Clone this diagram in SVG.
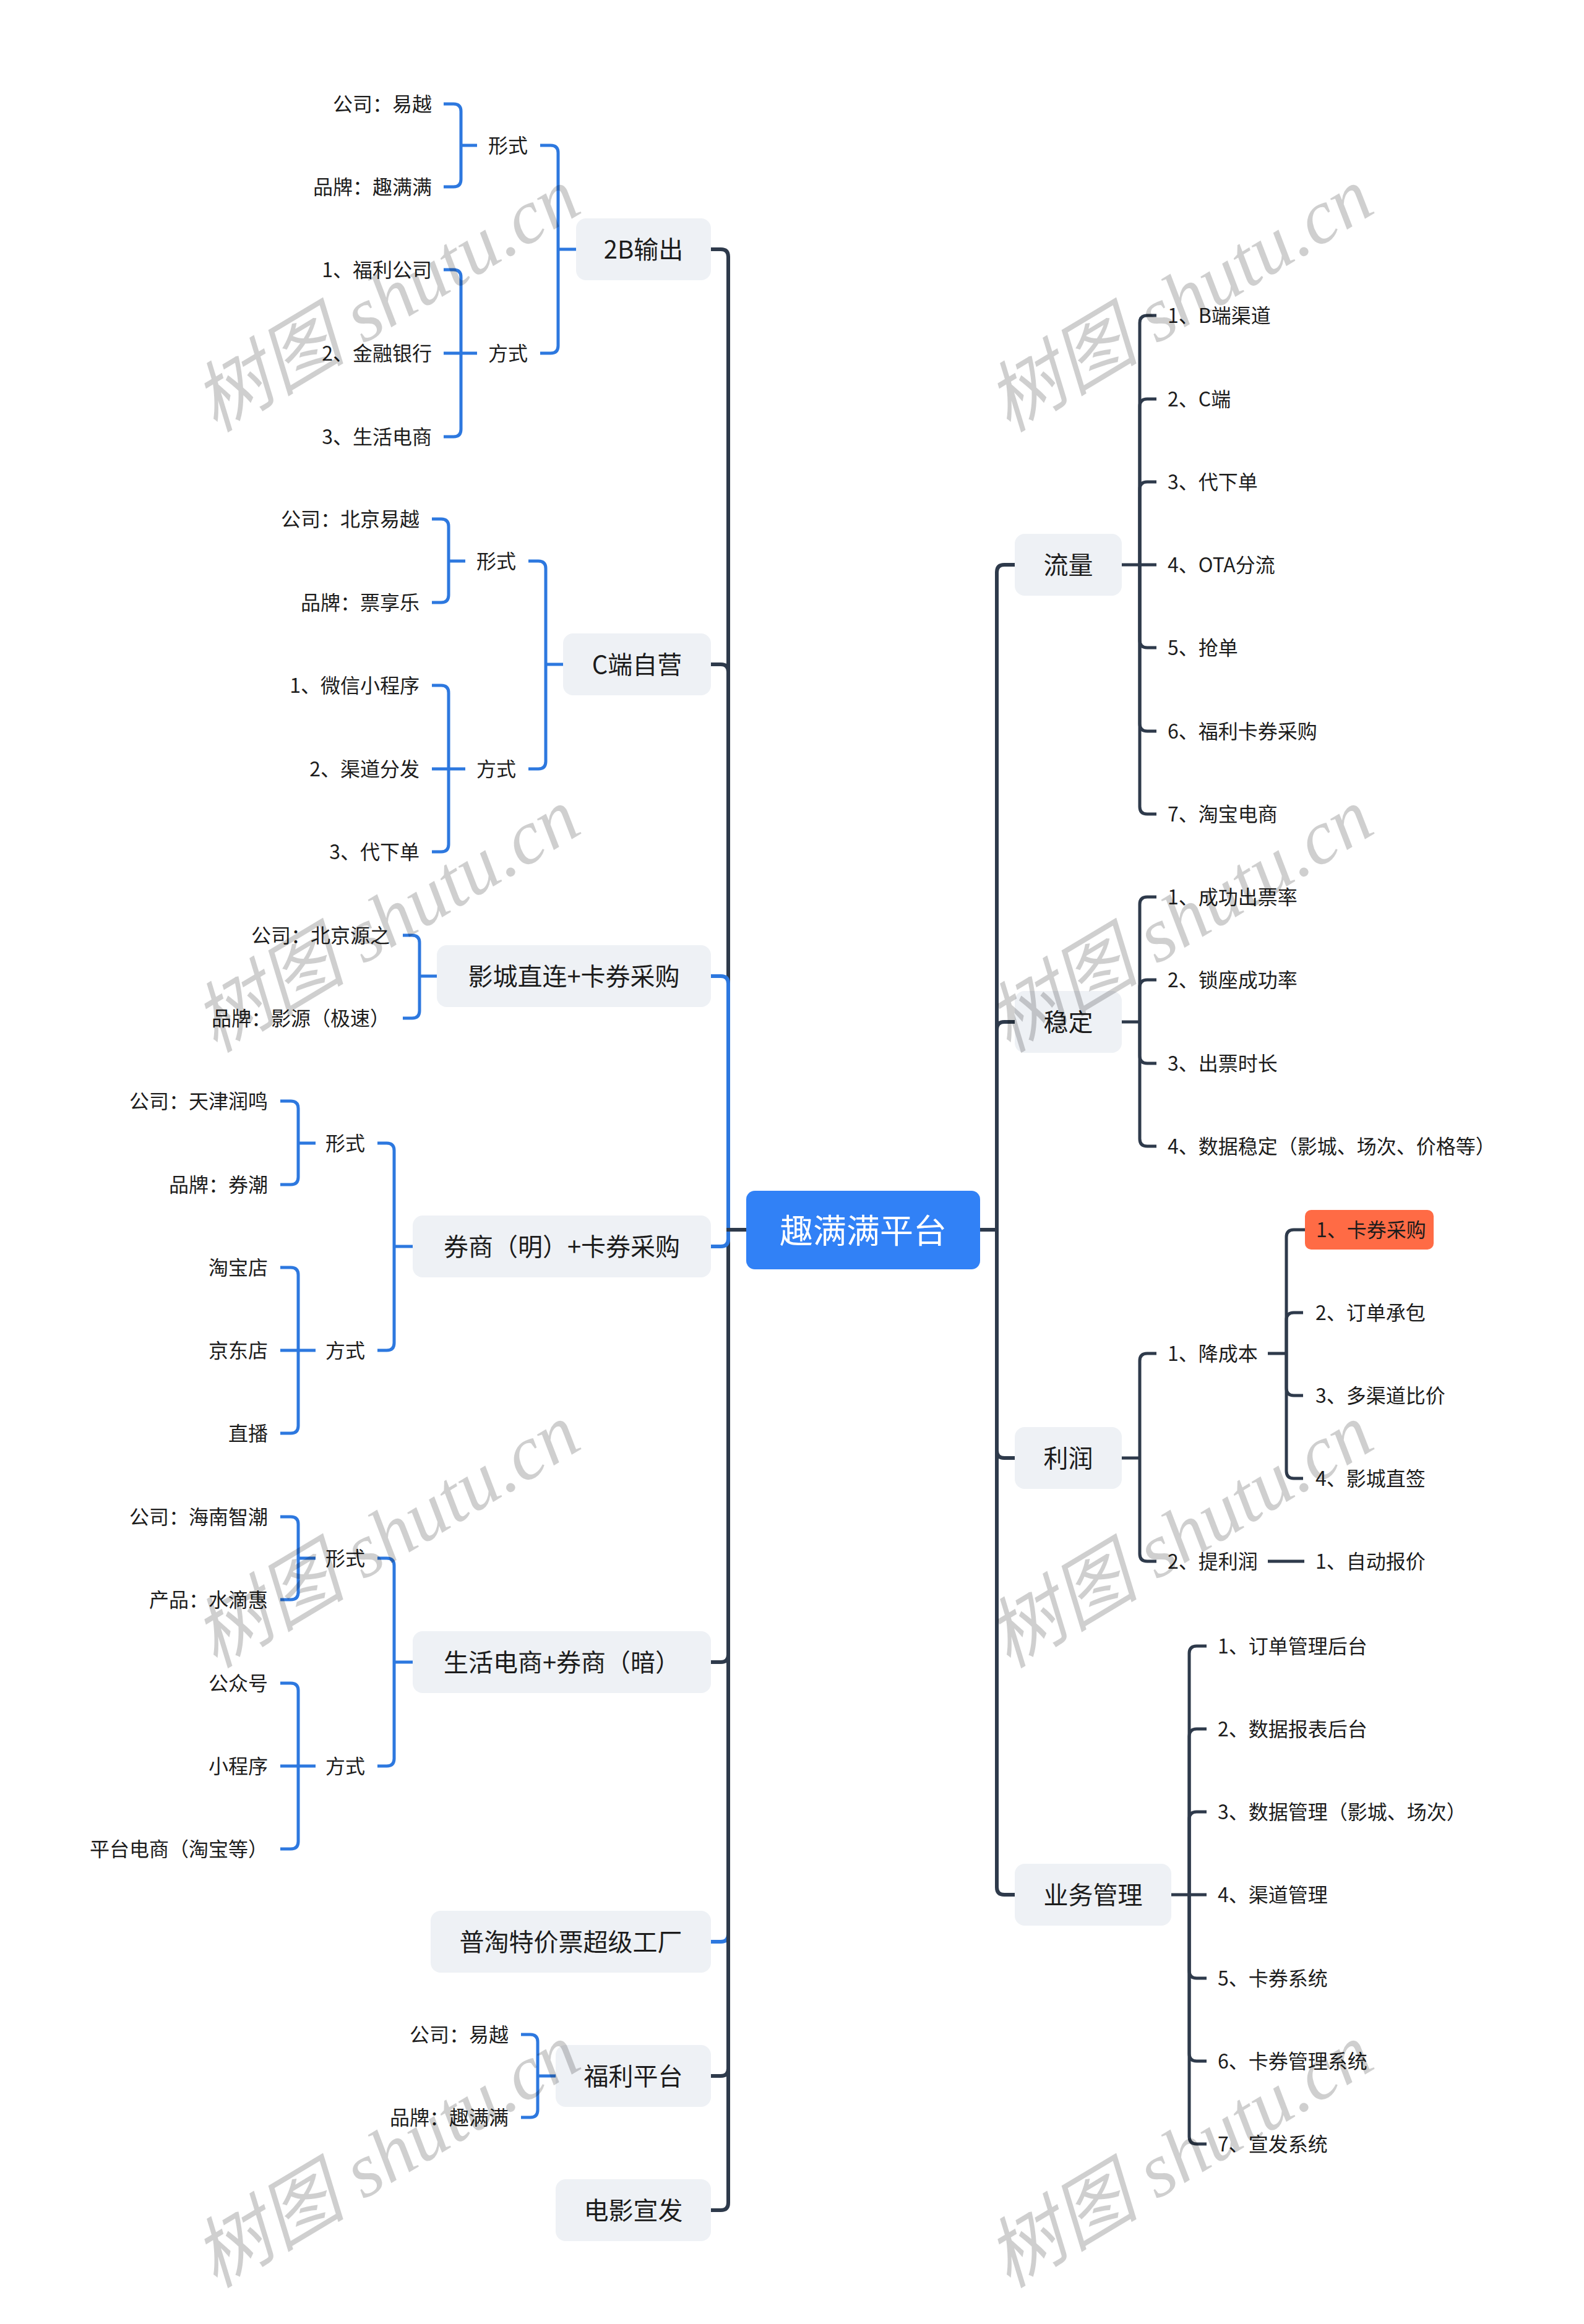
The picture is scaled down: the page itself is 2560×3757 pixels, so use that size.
<svg xmlns="http://www.w3.org/2000/svg" width="2560" height="3757" viewBox="0 0 2560 3757">
<style>
text{font-family:"Noto Sans CJK SC","Liberation Sans",sans-serif;fill:#1c1c1c;dominant-baseline:central}
.box{fill:#EEF1F5}
.m{font-size:40px;text-anchor:middle;transform:translate(0px,-2px)}
.s{font-size:32px;transform:translate(0px,-2px)}
.e{text-anchor:end}
.root{fill:#3181F6}
.rt{font-size:54px;text-anchor:middle;fill:#ffffff;transform:translate(0px,-2px)}
.dk{fill:none;stroke:#2E3A4B;stroke-width:6}
.dk5{fill:none;stroke:#2E3A4B;stroke-width:5}
.bl{fill:none;stroke:#2D78DF;stroke-width:6}
.bl5{fill:none;stroke:#2D78DF;stroke-width:5}
.or{fill:#FF6B45}
.wm{font-family:"Liberation Serif","Noto Sans CJK SC",serif;font-style:italic;font-size:124px;fill:#000000;fill-opacity:0.19;dominant-baseline:alphabetic}
</style>
<rect width="2560" height="3757" fill="#ffffff"/>

<g id="connectors">
  <path class="dk" d="M1177,1988 V415 Q1177,403 1165,403 H1149"/>
  <path class="dk" d="M1177,1988 V1086 Q1177,1074 1165,1074 H1149"/>
  <path class="bl" d="M1177,1988 V1590 Q1177,1578 1165,1578 H1149"/>
  <path class="bl" d="M1177,1988 V3127 Q1177,3139 1165,3139 H1149"/>
  <path class="dk" d="M1177,1988 V2675 Q1177,2687 1165,2687 H1149"/>
  <path class="dk" d="M1177,1988 V3344 Q1177,3356 1165,3356 H1149"/>
  <path class="dk" d="M1177,1988 V3561 Q1177,3573 1165,3573 H1149"/>
  <path class="bl" d="M1177,1988 V2003 Q1177,2015 1165,2015 H1149"/>
  <path class="dk" d="M1206,1988 H1174"/>
  <path class="dk" d="M1584,1988 H1611"/>
  <path class="dk" d="M1611,1988 V925 Q1611,913 1623,913 H1640"/>
  <path class="dk" d="M1611,1988 V1664 Q1611,1652 1623,1652 H1640"/>
  <path class="dk" d="M1611,1988 V2345 Q1611,2357 1623,2357 H1640"/>
  <path class="dk" d="M1611,1988 V3051 Q1611,3063 1623,3063 H1640"/>

  <path class="bl5" d="M902,403 H931"/>
  <path class="bl5" d="M902,403 V247 Q902,235 890,235 H873"/>
  <path class="bl5" d="M902,403 V559 Q902,571 890,571 H873"/>
  <path class="bl5" d="M745,235 H771"/>
  <path class="bl5" d="M745,235 V180 Q745,168 733,168 H717"/>
  <path class="bl5" d="M745,235 V290 Q745,302 733,302 H717"/>
  <path class="bl5" d="M745,571 H771"/>
  <path class="bl5" d="M745,571 V448 Q745,436 733,436 H717"/>
  <path class="bl5" d="M745,571 H717"/>
  <path class="bl5" d="M745,571 V694 Q745,706 733,706 H717"/>

  <path class="bl5" d="M882,1074 H910"/>
  <path class="bl5" d="M882,1074 V919 Q882,907 870,907 H854"/>
  <path class="bl5" d="M882,1074 V1231 Q882,1243 870,1243 H854"/>
  <path class="bl5" d="M725,907 H752"/>
  <path class="bl5" d="M725,907 V851 Q725,839 713,839 H698"/>
  <path class="bl5" d="M725,907 V962 Q725,974 713,974 H698"/>
  <path class="bl5" d="M725,1243 H752"/>
  <path class="bl5" d="M725,1243 V1120 Q725,1108 713,1108 H698"/>
  <path class="bl5" d="M725,1243 H698"/>
  <path class="bl5" d="M725,1243 V1365 Q725,1377 713,1377 H698"/>

  <path class="bl5" d="M678,1578 H706"/>
  <path class="bl5" d="M678,1578 V1524 Q678,1512 666,1512 H651"/>
  <path class="bl5" d="M678,1578 V1634 Q678,1646 666,1646 H651"/>

  <path class="bl5" d="M637,2015 H667"/>
  <path class="bl5" d="M637,2015 V1860 Q637,1848 625,1848 H610"/>
  <path class="bl5" d="M637,2015 V2171 Q637,2183 625,2183 H610"/>
  <path class="bl5" d="M482,1848 H510"/>
  <path class="bl5" d="M482,1848 V1792 Q482,1780 470,1780 H453"/>
  <path class="bl5" d="M482,1848 V1903 Q482,1915 470,1915 H453"/>
  <path class="bl5" d="M482,2183 H510"/>
  <path class="bl5" d="M482,2183 V2061 Q482,2049 470,2049 H453"/>
  <path class="bl5" d="M482,2183 H453"/>
  <path class="bl5" d="M482,2183 V2305 Q482,2317 470,2317 H453"/>

  <path class="bl5" d="M637,2687 H667"/>
  <path class="bl5" d="M637,2687 V2531 Q637,2519 625,2519 H610"/>
  <path class="bl5" d="M637,2687 V2843 Q637,2855 625,2855 H610"/>
  <path class="bl5" d="M482,2519 H510"/>
  <path class="bl5" d="M482,2519 V2464 Q482,2452 470,2452 H453"/>
  <path class="bl5" d="M482,2519 V2574 Q482,2586 470,2586 H453"/>
  <path class="bl5" d="M482,2855 H510"/>
  <path class="bl5" d="M482,2855 V2733 Q482,2721 470,2721 H453"/>
  <path class="bl5" d="M482,2855 H453"/>
  <path class="bl5" d="M482,2855 V2977 Q482,2989 470,2989 H453"/>

  <path class="bl5" d="M869,3356 H898"/>
  <path class="bl5" d="M869,3356 V3301 Q869,3289 857,3289 H842"/>
  <path class="bl5" d="M869,3356 V3411 Q869,3423 857,3423 H842"/>

  <path class="dk5" d="M1813,913 H1842"/>
  <path class="dk5" d="M1842,913 V522 Q1842,510 1854,510 H1869"/>
  <path class="dk5" d="M1842,913 V657 Q1842,645 1854,645 H1869"/>
  <path class="dk5" d="M1842,913 V791 Q1842,779 1854,779 H1869"/>
  <path class="dk5" d="M1842,913 H1869"/>
  <path class="dk5" d="M1842,913 V1035 Q1842,1047 1854,1047 H1869"/>
  <path class="dk5" d="M1842,913 V1170 Q1842,1182 1854,1182 H1869"/>
  <path class="dk5" d="M1842,913 V1304 Q1842,1316 1854,1316 H1869"/>

  <path class="dk5" d="M1813,1652 H1842"/>
  <path class="dk5" d="M1842,1652 V1462 Q1842,1450 1854,1450 H1869"/>
  <path class="dk5" d="M1842,1652 V1596 Q1842,1584 1854,1584 H1869"/>
  <path class="dk5" d="M1842,1652 V1707 Q1842,1719 1854,1719 H1869"/>
  <path class="dk5" d="M1842,1652 V1841 Q1842,1853 1854,1853 H1869"/>

  <path class="dk5" d="M1813,2357 H1842"/>
  <path class="dk5" d="M1842,2357 V2200 Q1842,2188 1854,2188 H1869"/>
  <path class="dk5" d="M1842,2357 V2512 Q1842,2524 1854,2524 H1869"/>
  <path class="dk5" d="M2049,2188 H2079"/>
  <path class="dk5" d="M2079,2188 V2000 Q2079,1988 2091,1988 H2110"/>
  <path class="dk5" d="M2079,2188 V2134 Q2079,2122 2091,2122 H2106"/>
  <path class="dk5" d="M2079,2188 V2244 Q2079,2256 2091,2256 H2106"/>
  <path class="dk5" d="M2079,2188 V2378 Q2079,2390 2091,2390 H2106"/>
  <path class="dk5" d="M2049,2524 H2108"/>

  <path class="dk5" d="M1893,3063 H1922"/>
  <path class="dk5" d="M1922,3063 V2673 Q1922,2661 1934,2661 H1950"/>
  <path class="dk5" d="M1922,3063 V2807 Q1922,2795 1934,2795 H1950"/>
  <path class="dk5" d="M1922,3063 V2941 Q1922,2929 1934,2929 H1950"/>
  <path class="dk5" d="M1922,3063 H1950"/>
  <path class="dk5" d="M1922,3063 V3186 Q1922,3198 1934,3198 H1950"/>
  <path class="dk5" d="M1922,3063 V3320 Q1922,3332 1934,3332 H1950"/>
  <path class="dk5" d="M1922,3063 V3454 Q1922,3466 1934,3466 H1950"/>
</g>

<g id="root">
  <rect class="root" x="1206" y="1925" width="378" height="127" rx="14"/>
  <text class="rt" x="1395" y="1988">趣满满平台</text>
</g>

<g id="n-2b">
  <rect class="box" x="931" y="353" width="218" height="100" rx="16"/>
  <text class="m" x="1040" y="403">2B输出</text>
</g>
<g id="n-2b-form">
  <text class="s e" x="853" y="235">形式</text>
  <text class="s e" x="698" y="168">公司：易越</text>
  <text class="s e" x="698" y="302">品牌：趣满满</text>
</g>
<g id="n-2b-way">
  <text class="s e" x="853" y="571">方式</text>
  <text class="s e" x="698" y="436">1、福利公司</text>
  <text class="s e" x="698" y="571">2、金融银行</text>
  <text class="s e" x="698" y="706">3、生活电商</text>
</g>

<g id="n-c">
  <rect class="box" x="910" y="1024" width="239" height="100" rx="16"/>
  <text class="m" x="1029.5" y="1074">C端自营</text>
</g>
<g id="n-c-form">
  <text class="s e" x="834" y="907">形式</text>
  <text class="s e" x="678" y="839">公司：北京易越</text>
  <text class="s e" x="678" y="974">品牌：票享乐</text>
</g>
<g id="n-c-way">
  <text class="s e" x="834" y="1243">方式</text>
  <text class="s e" x="678" y="1108">1、微信小程序</text>
  <text class="s e" x="678" y="1243">2、渠道分发</text>
  <text class="s e" x="678" y="1377">3、代下单</text>
</g>

<g id="n-cinema">
  <rect class="box" x="706" y="1528" width="443" height="100" rx="16"/>
  <text class="m" x="927.5" y="1578">影城直连+卡券采购</text>
  <text class="s e" x="630" y="1512">公司：北京源之</text>
  <text class="s e" x="630" y="1646">品牌：影源（极速）</text>
</g>

<g id="n-quan-ming">
  <rect class="box" x="667" y="1965" width="482" height="100" rx="16"/>
  <text class="m" x="908" y="2015">券商（明）+卡券采购</text>
</g>
<g id="n-qm-form">
  <text class="s e" x="590" y="1848">形式</text>
  <text class="s e" x="433" y="1780">公司：天津润鸣</text>
  <text class="s e" x="433" y="1915">品牌：券潮</text>
</g>
<g id="n-qm-way">
  <text class="s e" x="590" y="2183">方式</text>
  <text class="s e" x="433" y="2049">淘宝店</text>
  <text class="s e" x="433" y="2183">京东店</text>
  <text class="s e" x="433" y="2317">直播</text>
</g>

<g id="n-life">
  <rect class="box" x="667" y="2637" width="482" height="100" rx="16"/>
  <text class="m" x="908" y="2687">生活电商+券商（暗）</text>
</g>
<g id="n-life-form">
  <text class="s e" x="590" y="2519">形式</text>
  <text class="s e" x="433" y="2452">公司：海南智潮</text>
  <text class="s e" x="433" y="2586">产品：水滴惠</text>
</g>
<g id="n-life-way">
  <text class="s e" x="590" y="2855">方式</text>
  <text class="s e" x="433" y="2721">公众号</text>
  <text class="s e" x="433" y="2855">小程序</text>
  <text class="s e" x="433" y="2989">平台电商（淘宝等）</text>
</g>

<g id="n-putao">
  <rect class="box" x="696" y="3089" width="453" height="100" rx="16"/>
  <text class="m" x="922.5" y="3139">普淘特价票超级工厂</text>
</g>

<g id="n-fuli">
  <rect class="box" x="898" y="3306" width="251" height="100" rx="16"/>
  <text class="m" x="1023.5" y="3356">福利平台</text>
  <text class="s e" x="822" y="3289">公司：易越</text>
  <text class="s e" x="822" y="3423">品牌：趣满满</text>
</g>

<g id="n-movie">
  <rect class="box" x="898" y="3523" width="251" height="100" rx="16"/>
  <text class="m" x="1023.5" y="3573">电影宣发</text>
</g>

<g id="n-flow">
  <rect class="box" x="1640" y="863" width="173" height="100" rx="16"/>
  <text class="m" x="1726.5" y="913">流量</text>
  <text class="s" x="1887" y="510">1、B端渠道</text>
  <text class="s" x="1887" y="645">2、C端</text>
  <text class="s" x="1887" y="779">3、代下单</text>
  <text class="s" x="1887" y="913">4、OTA分流</text>
  <text class="s" x="1887" y="1047">5、抢单</text>
  <text class="s" x="1887" y="1182">6、福利卡券采购</text>
  <text class="s" x="1887" y="1316">7、淘宝电商</text>
</g>

<g id="n-stable">
  <rect class="box" x="1640" y="1602" width="173" height="100" rx="16"/>
  <text class="m" x="1726.5" y="1652">稳定</text>
  <text class="s" x="1887" y="1450">1、成功出票率</text>
  <text class="s" x="1887" y="1584">2、锁座成功率</text>
  <text class="s" x="1887" y="1719">3、出票时长</text>
  <text class="s" x="1887" y="1853">4、数据稳定（影城、场次、价格等）</text>
</g>

<g id="n-profit">
  <rect class="box" x="1640" y="2307" width="173" height="100" rx="16"/>
  <text class="m" x="1726.5" y="2357">利润</text>
</g>
<g id="n-cost">
  <text class="s" x="1887" y="2188">1、降成本</text>
  <rect class="or" x="2109" y="1956" width="208" height="64" rx="10"/>
  <text class="s" x="2127" y="1988">1、卡券采购</text>
  <text class="s" x="2126" y="2122">2、订单承包</text>
  <text class="s" x="2126" y="2256">3、多渠道比价</text>
  <text class="s" x="2126" y="2390">4、影城直签</text>
</g>
<g id="n-raise">
  <text class="s" x="1887" y="2524">2、提利润</text>
  <text class="s" x="2126" y="2524">1、自动报价</text>
</g>

<g id="n-biz">
  <rect class="box" x="1640" y="3013" width="253" height="100" rx="16"/>
  <text class="m" x="1766.5" y="3063">业务管理</text>
  <text class="s" x="1968" y="2661">1、订单管理后台</text>
  <text class="s" x="1968" y="2795">2、数据报表后台</text>
  <text class="s" x="1968" y="2929">3、数据管理（影城、场次）</text>
  <text class="s" x="1968" y="3063">4、渠道管理</text>
  <text class="s" x="1968" y="3198">5、卡券系统</text>
  <text class="s" x="1968" y="3332">6、卡券管理系统</text>
  <text class="s" x="1968" y="3466">7、宣发系统</text>
</g>

<g id="watermark">
  <text class="wm" transform="translate(348,700) rotate(-31)">树图 shutu.cn</text>
  <text class="wm" transform="translate(1630,700) rotate(-31)">树图 shutu.cn</text>
  <text class="wm" transform="translate(348,1703) rotate(-31)">树图 shutu.cn</text>
  <text class="wm" transform="translate(1630,1703) rotate(-31)">树图 shutu.cn</text>
  <text class="wm" transform="translate(348,2698) rotate(-31)">树图 shutu.cn</text>
  <text class="wm" transform="translate(1630,2698) rotate(-31)">树图 shutu.cn</text>
  <text class="wm" transform="translate(348,3700) rotate(-31)">树图 shutu.cn</text>
  <text class="wm" transform="translate(1630,3700) rotate(-31)">树图 shutu.cn</text>
</g>
</svg>
